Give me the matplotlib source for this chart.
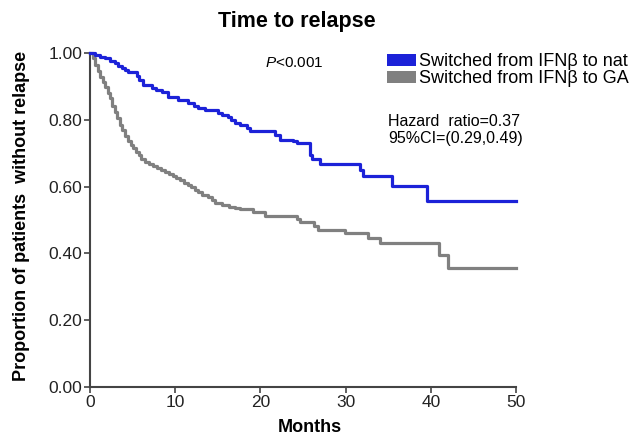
import matplotlib
matplotlib.use("Agg")
import matplotlib.pyplot as plt
from matplotlib.patches import Patch
import numpy as np

plt.rcParams['font.family'] = ['Liberation Sans', 'DejaVu Sans']
plt.rcParams['mathtext.fontset'] = 'custom'
plt.rcParams['mathtext.it'] = 'Liberation Sans:italic'
plt.rcParams['mathtext.rm'] = 'Liberation Sans'

# Kaplan-Meier step data (months, proportion without relapse)
nat_months = [0, 0.6, 1.2, 1.8, 2.4, 2.9, 3.3, 3.75, 4.1, 4.45, 5.5, 5.7, 6.2, 7.3, 7.8,
              8.4, 9.1, 10.3, 11.5, 12.2, 12.7, 13.5, 15.0, 15.5, 16.2, 16.6, 17.0, 17.6,
              18.4, 18.8, 21.7, 22.3, 23.8, 24.3, 25.8, 26.0, 27.0, 31.7, 32.0, 35.5,
              39.6, 50]
nat_surv = [1.0, 0.994, 0.988, 0.985, 0.977, 0.970, 0.962, 0.955, 0.949, 0.943, 0.930,
            0.919, 0.904, 0.895, 0.889, 0.883, 0.868, 0.859, 0.850, 0.842, 0.835, 0.829,
            0.820, 0.814, 0.808, 0.799, 0.790, 0.784, 0.775, 0.766, 0.754, 0.740, 0.737,
            0.731, 0.695, 0.683, 0.668, 0.650, 0.632, 0.602, 0.557, 0.557]

ga_months = [0, 0.3, 0.6, 0.9, 1.2, 1.5, 1.8, 2.1, 2.3, 2.6, 2.9, 3.2, 3.5, 3.8, 4.1,
             4.45, 4.8, 5.1, 5.4, 5.7, 6.0, 6.4, 6.9, 7.4, 7.9, 8.3, 8.8, 9.3, 9.7,
             10.1, 10.6, 11.0, 11.5, 11.9, 12.3, 12.7, 13.1, 13.8, 14.3, 14.7, 15.5,
             16.3, 17.0, 17.6, 19.1, 20.5, 24.3, 24.6, 26.3, 26.8, 29.9, 32.6, 34.0,
             41.0, 42.0, 50]
ga_surv = [1.0, 0.985, 0.964, 0.945, 0.928, 0.912, 0.898, 0.880, 0.865, 0.840, 0.822,
           0.805, 0.785, 0.768, 0.752, 0.737, 0.725, 0.716, 0.705, 0.695, 0.684, 0.674,
           0.667, 0.662, 0.656, 0.650, 0.644, 0.638, 0.632, 0.626, 0.619, 0.612, 0.605,
           0.598, 0.590, 0.583, 0.576, 0.569, 0.560, 0.551, 0.546, 0.540, 0.536, 0.533,
           0.524, 0.512, 0.503, 0.494, 0.482, 0.470, 0.461, 0.446, 0.431, 0.395, 0.356,
           0.356]

series_labels = ["Switched from IFN\u03b2 to nat", "Switched from IFN\u03b2 to GA"]
series_colors = ["#1c22d8", "#808080"]
yticks = [0.0, 0.2, 0.4, 0.6, 0.8, 1.0]
xticks = [0, 10, 20, 30, 40, 50]

fig = plt.figure(figsize=(6.41, 4.36), dpi=100)
ax = fig.add_axes([90/641, 1-387/436, (516-90)/641, (387-53)/436])

ax.step(ga_months, ga_surv, where='post', color=series_colors[1], lw=2.3, clip_on=False, zorder=3)
ax.step(nat_months, nat_surv, where='post', color=series_colors[0], lw=2.3, clip_on=False, zorder=4)

ax.set_xlim(0, 50)
ax.set_ylim(0, 1.0)
ax.set_xticks(xticks)
ax.set_yticks(yticks)
ax.set_yticklabels([f"{v:.2f}" for v in yticks])
for s in ['top', 'right']:
    ax.spines[s].set_visible(False)
for s in ['left', 'bottom']:
    ax.spines[s].set_color('#444444')
    ax.spines[s].set_linewidth(1.5)
ax.tick_params(axis='both', length=4, width=1.2, color='#444444', labelsize=12.5,
               labelcolor='#222222', pad=1.5)

fig.text(297/641, 1-22/436, "Time to relapse", ha='center', va='center',
         fontsize=15.5, fontweight='bold')
fig.text(310/641, 1-432/436, "Months", ha='center', va='baseline', fontsize=13,
         fontweight='bold')
fig.text(22/641, 1-216/436, "Proportion of patients  without relapse", rotation=90,
         ha='center', va='center', fontsize=13, fontweight='bold')

fig.text(265/641, 1-63/436, r"$\it{P}$<0.001", ha='left', va='center', fontsize=11)
fig.text(388/641, 1-130/436, "Hazard  ratio=0.37\n95%CI=(0.29,0.49)", ha='left',
         va='center', fontsize=11.5, linespacing=1.25)

handles = [Patch(facecolor=c, edgecolor='none') for c in series_colors]
leg = ax.legend(handles, series_labels, loc='upper left',
                bbox_to_anchor=(387/641, 1-53/436), bbox_transform=fig.transFigure,
                frameon=False, fontsize=13, borderpad=0, borderaxespad=0,
                handlelength=1.6, handleheight=0.65, handletextpad=0.15,
                labelspacing=0.0)

fig.savefig("out.png", dpi=100)
